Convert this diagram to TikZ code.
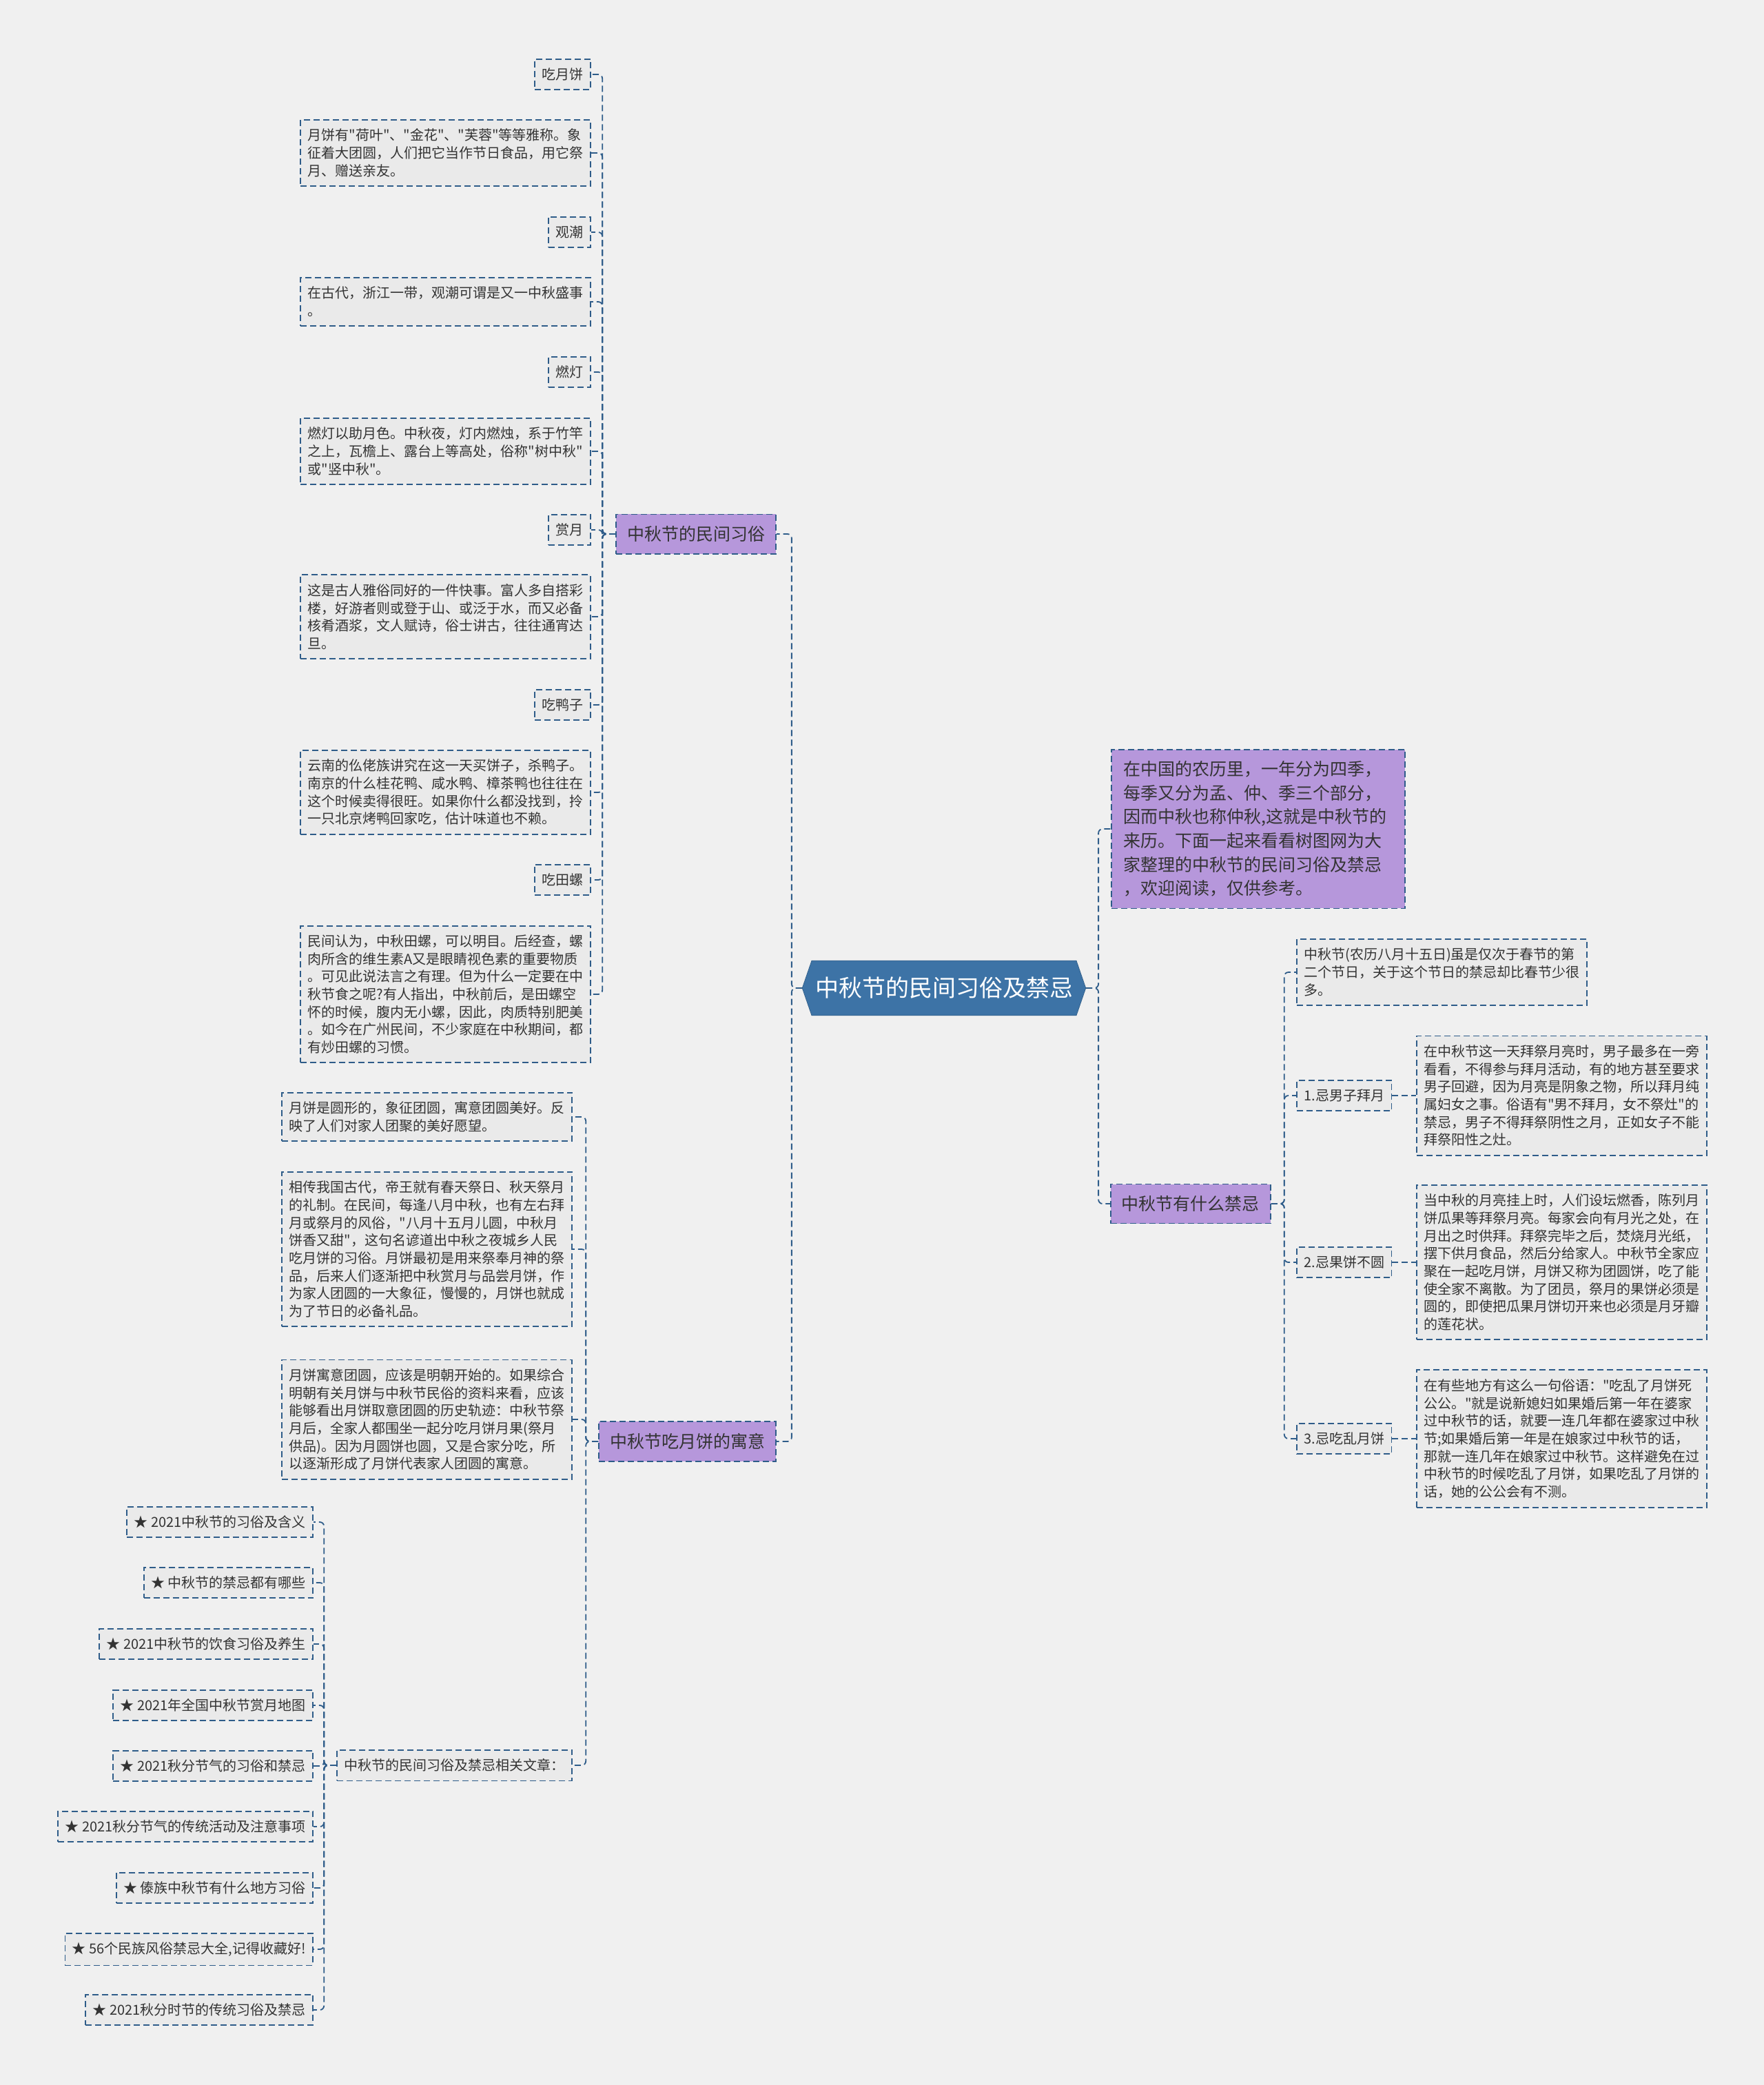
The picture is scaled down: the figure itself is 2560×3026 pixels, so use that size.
\documentclass[tikz,border=0pt]{standalone}
\usepackage{fontspec}
\setmainfont{Noto Sans CJK SC}[Ligatures=TeXOff]
\usetikzlibrary{shapes.symbols}
\definecolor{bgcol}{HTML}{F0F0F0}
\definecolor{linkblue}{HTML}{2E5C89}
\definecolor{hubblue}{HTML}{3D73A6}
\definecolor{topicpurple}{HTML}{B697DB}
\definecolor{leafgray}{HTML}{EAEAEA}
\definecolor{textgray}{HTML}{333333}

\begin{document}
\begin{tikzpicture}[x=0.5pt,y=-0.5pt,
    dashline/.style={draw=linkblue,line width=0.9pt,dash pattern=on 4.5pt off 2.5pt},
    link/.style={dashline,rounded corners=3pt},
    hub/.style={signal,signal to=east and west,signal pointer angle=142,fill=hubblue,draw=hubblue!85!black,
      text=white,font=\fontsize{17}{20}\selectfont,inner xsep=2.5pt,inner ysep=12pt},
    topic/.style={dashline,fill=topicpurple,text=textgray,font=\fontsize{12.5}{17.3}\selectfont,
      inner xsep=8pt,inner ysep=8.5pt},
    leaf/.style={dashline,fill=leafgray,text=textgray,font=\fontsize{10}{12.85}\selectfont,
      inner xsep=5.25pt,inner ysep=6.5pt},
    note/.style={leaf,text width=200pt,align=left}]
  \fill[bgcol] (0,0) rectangle (2560,3026);
  \useasboundingbox (0,0) rectangle (2560,3026);

  \node[hub] (hub) at (1370,1434) {中秋节的民间习俗及禁忌};

  \node[topic,anchor=east] (custom) at (1127,775) {中秋节的民间习俗};
  \node[topic,anchor=east] (meaning) at (1127,2092) {中秋节吃月饼的寓意};
  \node[topic,anchor=west,text width=195pt,align=left,inner xsep=9pt] (intro) at (1612,1203)
    {在中国的农历里，一年分为四季，\\每季又分为孟、仲、季三个部分，\\因而中秋也称仲秋,这就是中秋节的\\来历。下面一起来看看树图网为大\\家整理的中秋节的民间习俗及禁忌\\，欢迎阅读，仅供参考。};
  \node[topic,anchor=west] (taboo) at (1611,1747) {中秋节有什么禁忌};

  \node[leaf,anchor=east] (lyb) at (858,108) {吃月饼};
  \node[note,anchor=east] (tyb) at (858,222)
    {月饼有"荷叶"、"金花"、"芙蓉"等等雅称。象\\征着大团圆，人们把它当作节日食品，用它祭\\月、赠送亲友。};
  \node[leaf,anchor=east] (lgc) at (858,337) {观潮};
  \node[note,anchor=east] (tgc) at (858,438)
    {在古代，浙江一带，观潮可谓是又一中秋盛事\\。};
  \node[leaf,anchor=east] (lrd) at (858,540) {燃灯};
  \node[note,anchor=east] (trd) at (858,655)
    {燃灯以助月色。中秋夜，灯内燃烛，系于竹竿\\之上，瓦檐上、露台上等高处，俗称"树中秋"\\或"竖中秋"。};
  \node[leaf,anchor=east] (lsy) at (858,769) {赏月};
  \node[note,anchor=east] (tsy) at (858,895)
    {这是古人雅俗同好的一件快事。富人多自搭彩\\楼，好游者则或登于山、或泛于水，而又必备\\核肴酒浆，文人赋诗，俗士讲古，往往通宵达\\旦。};
  \node[leaf,anchor=east] (lyz) at (858,1023) {吃鸭子};
  \node[note,anchor=east] (tyz) at (858,1150)
    {云南的仫佬族讲究在这一天买饼子，杀鸭子。\\南京的什么桂花鸭、咸水鸭、樟茶鸭也往往在\\这个时候卖得很旺。如果你什么都没找到，拎\\一只北京烤鸭回家吃，估计味道也不赖。};
  \node[leaf,anchor=east] (ltl) at (858,1277) {吃田螺};
  \node[note,anchor=east] (ttl) at (858,1443)
    {民间认为，中秋田螺，可以明目。后经查，螺\\肉所含的维生素A又是眼睛视色素的重要物质\\。可见此说法言之有理。但为什么一定要在中\\秋节食之呢?有人指出，中秋前后，是田螺空\\怀的时候，腹内无小螺，因此，肉质特别肥美\\。如今在广州民间，不少家庭在中秋期间，都\\有炒田螺的习惯。};

  \node[note,anchor=east] (mround) at (831,1621)
    {月饼是圆形的，象征团圆，寓意团圆美好。反\\映了人们对家人团聚的美好愿望。};
  \node[note,anchor=east] (mrite) at (831,1813)
    {相传我国古代，帝王就有春天祭日、秋天祭月\\的礼制。在民间，每逢八月中秋，也有左右拜\\月或祭月的风俗，"八月十五月儿圆，中秋月\\饼香又甜"，这句名谚道出中秋之夜城乡人民\\吃月饼的习俗。月饼最初是用来祭奉月神的祭\\品，后来人们逐渐把中秋赏月与品尝月饼，作\\为家人团圆的一大象征，慢慢的，月饼也就成\\为了节日的必备礼品。};
  \node[note,anchor=east] (mming) at (831,2060)
    {月饼寓意团圆，应该是明朝开始的。如果综合\\明朝有关月饼与中秋节民俗的资料来看，应该\\能够看出月饼取意团圆的历史轨迹：中秋节祭\\月后，全家人都围坐一起分吃月饼月果(祭月\\供品)。因为月圆饼也圆，又是合家分吃，所\\以逐渐形成了月饼代表家人团圆的寓意。};
  \node[leaf,anchor=east] (related) at (831,2562) {中秋节的民间习俗及禁忌相关文章：};

  \foreach \i/\y/\t in {1/2209/{★ 2021中秋节的习俗及含义},2/2297/{★ 中秋节的禁忌都有哪些},
      3/2386/{★ 2021中秋节的饮食习俗及养生},4/2475/{★ 2021年全国中秋节赏月地图},
      5/2563/{★ 2021秋分节气的习俗和禁忌},6/2651/{★ 2021秋分节气的传统活动及注意事项},
      7/2740/{★ 傣族中秋节有什么地方习俗},8/2829/{★ 56个民族风俗禁忌大全,记得收藏好!},
      9/2917/{★ 2021秋分时节的传统习俗及禁忌}}
    \node[leaf,anchor=east] (r\i) at (455,\y) {\t};

  \node[note,anchor=west] (tabintro) at (1881,1411)
    {中秋节(农历八月十五日)虽是仅次于春节的第\\二个节日，关于这个节日的禁忌却比春节少很\\多。};
  \node[leaf,anchor=west] (tab1) at (1881,1590) {1.忌男子拜月};
  \node[note,anchor=west] (tabtxt1) at (2055,1590)
    {在中秋节这一天拜祭月亮时，男子最多在一旁\\看看，不得参与拜月活动，有的地方甚至要求\\男子回避，因为月亮是阴象之物，所以拜月纯\\属妇女之事。俗语有"男不拜月，女不祭灶"的\\禁忌，男子不得拜祭阴性之月，正如女子不能\\拜祭阳性之灶。};
  \node[leaf,anchor=west] (tab2) at (1881,1832) {2.忌果饼不圆};
  \node[note,anchor=west] (tabtxt2) at (2055,1832)
    {当中秋的月亮挂上时，人们设坛燃香，陈列月\\饼瓜果等拜祭月亮。每家会向有月光之处，在\\月出之时供拜。拜祭完毕之后，焚烧月光纸，\\摆下供月食品，然后分给家人。中秋节全家应\\聚在一起吃月饼，月饼又称为团圆饼，吃了能\\使全家不离散。为了团员，祭月的果饼必须是\\圆的，即使把瓜果月饼切开来也必须是月牙瓣\\的莲花状。};
  \node[leaf,anchor=west] (tab3) at (1881,2088) {3.忌吃乱月饼};
  \node[note,anchor=west] (tabtxt3) at (2055,2088)
    {在有些地方有这么一句俗语："吃乱了月饼死\\公公。"就是说新媳妇如果婚后第一年在婆家\\过中秋节的话，就要一连几年都在婆家过中秋\\节;如果婚后第一年是在娘家过中秋节的话，\\那就一连几年在娘家过中秋节。这样避免在过\\中秋节的时候吃乱了月饼，如果吃乱了月饼的\\话，她的公公会有不测。};

  \draw[link] (hub.west) -- ++(-15,0) |- (custom.east);
  \draw[link] (hub.west) -- ++(-15,0) |- (meaning.east);
  \draw[link] (hub.east) -- ++(18,0) |- (intro.west);
  \draw[link] (hub.east) -- ++(18,0) |- (taboo.west);
  \foreach \n in {lyb,tyb,lgc,tgc,lrd,trd,lsy,tsy,lyz,tyz,ltl,ttl}
    \draw[link] (custom.west) -- ++(-19,0) |- (\n.east);
  \foreach \n in {mround,mrite,mming,related}
    \draw[link] (meaning.west) -- ++(-18,0) |- (\n.east);
  \foreach \i in {1,...,9}
    \draw[link] (related.west) -- ++(-18,0) |- (r\i.east);
  \foreach \n in {tabintro,tab1,tab2,tab3}
    \draw[link] (taboo.east) -- ++(19,0) |- (\n.west);
  \draw[link] (tab1.east) -- (tabtxt1.west);
  \draw[link] (tab2.east) -- (tabtxt2.west);
  \draw[link] (tab3.east) -- (tabtxt3.west);
\end{tikzpicture}
\end{document}
